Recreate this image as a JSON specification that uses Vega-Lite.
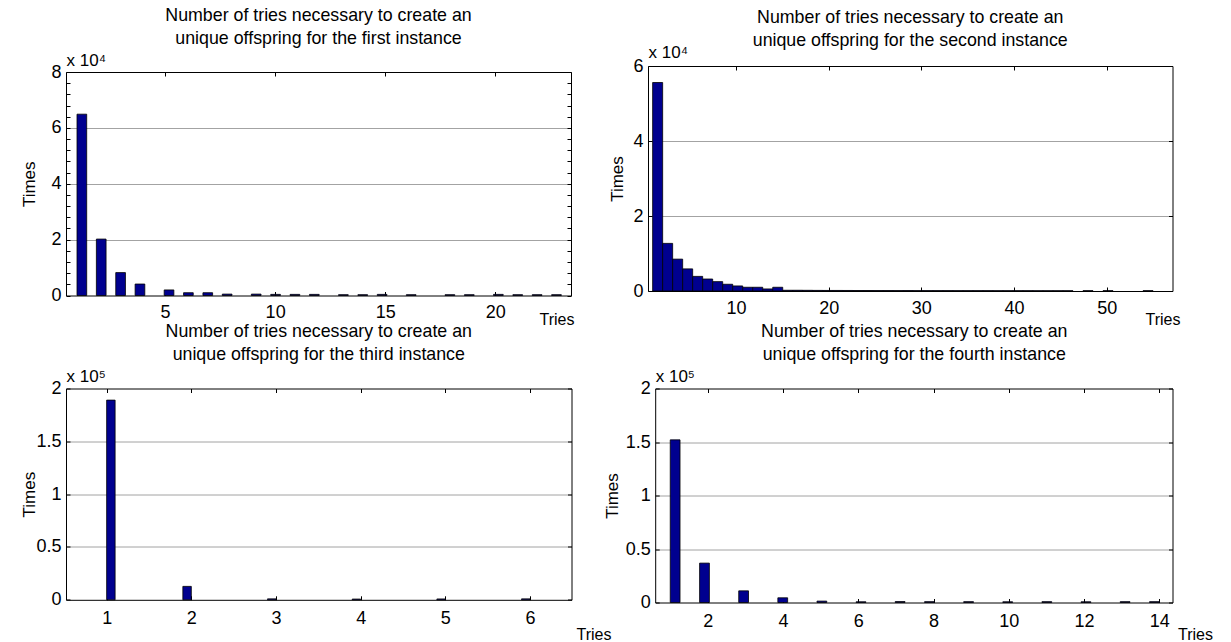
{
  "$schema": "https://vega.github.io/schema/vega-lite/v6.json",
  "padding": {"left": 20, "top": 7, "right": 0, "bottom": 0},
  "bounds": "flush",
  "align": "each",
  "columns": 2,
  "spacing": {"row": 92.5, "column": 76},
  "config": {
    "font": "Liberation Sans",
    "view": {"stroke": null},
    "axis": {
      "domainColor": "black", "domainWidth": 1, "tickColor": "black", "labelColor": "black", "titleColor": "black",
      "labelFont": "Liberation Sans", "titleFont": "Liberation Sans", "titleFontWeight": "normal",
      "labelFontSize": 18, "titleFontSize": 17, "tickSize": -4, "grid": false,
      "gridColor": "#8c8c8c", "gridWidth": 0.8
    },
    "title": {"font": "Liberation Sans", "fontSize": 17.8, "fontWeight": "normal", "color": "black", "lineHeight": 23, "anchor": "middle"},
    "bar": {"color": "#00008F", "stroke": "black", "strokeWidth": 0.8}
  },
  "concat": [
    {
      "width": 505, "height": 229.5,
      "title": {"text": ["Number of tries necessary to create an", "unique offspring for the first instance"], "offset": 3},
      "data": {"values": [
        {"lo": 1.00, "hi": 1.44, "count": 64900},
        {"lo": 1.88, "hi": 2.32, "count": 20200},
        {"lo": 2.76, "hi": 3.20, "count": 8200},
        {"lo": 3.64, "hi": 4.08, "count": 4100},
        {"lo": 4.96, "hi": 5.40, "count": 2000},
        {"lo": 5.84, "hi": 6.28, "count": 1000},
        {"lo": 6.72, "hi": 7.16, "count": 1000},
        {"lo": 7.60, "hi": 8.04, "count": 500},
        {"lo": 8.92, "hi": 9.36, "count": 500},
        {"lo": 9.80, "hi": 10.24, "count": 400},
        {"lo": 10.68, "hi": 11.12, "count": 400},
        {"lo": 11.56, "hi": 12.00, "count": 400},
        {"lo": 12.88, "hi": 13.32, "count": 300},
        {"lo": 13.76, "hi": 14.20, "count": 300},
        {"lo": 14.64, "hi": 15.08, "count": 400},
        {"lo": 15.96, "hi": 16.40, "count": 300},
        {"lo": 17.72, "hi": 18.16, "count": 300},
        {"lo": 18.60, "hi": 19.04, "count": 300},
        {"lo": 19.92, "hi": 20.36, "count": 400},
        {"lo": 20.80, "hi": 21.24, "count": 300},
        {"lo": 21.68, "hi": 22.12, "count": 300},
        {"lo": 22.56, "hi": 23.00, "count": 300}
      ]},
      "layer": [
        {
          "mark": {"type": "bar"},
          "encoding": {
            "x": {"field": "lo", "type": "quantitative", "scale": {"domain": [0.5, 23.44], "nice": false, "zero": false},
              "axis": {"orient": "bottom", "values": [5, 10, 15, 20], "labelPadding": 12, "title": "Tries", "titleFontSize": 16, "titleX": 508, "titleY": 29, "titleAlign": "right", "titleAngle": 0, "titleBaseline": "alphabetic"}},
            "x2": {"field": "hi"},
            "y": {"field": "count", "type": "quantitative", "scale": {"domain": [0, 80000], "nice": false, "range": [229.5, 6]},
              "axis": {"orient": "left", "values": [0, 4000, 8000, 12000, 16000, 20000, 24000, 28000, 32000, 36000, 40000, 44000, 48000, 52000, 56000, 60000, 64000, 68000, 72000, 76000, 80000],
                "labelExpr": "datum.value % 20000 === 0 ? '' + datum.value / 10000 : ''", "labelPadding": 9,
                "grid": true, "gridOpacity": {"condition": {"test": "datum.value % 20000 === 0 && datum.value > 0 && datum.value < 80000", "value": 1}, "value": 0},
                "title": "Times", "titleX": -37, "titleY": 117.75, "titleAlign": "center", "titleBaseline": "middle", "titleAngle": -90}},
            "y2": {"datum": 0}
          }
        },
        {
          "mark": {"type": "bar", "opacity": 0},
          "encoding": {
            "x": {"field": "lo", "type": "quantitative", "axis": {"orient": "top", "offset": -6, "values": [5, 10, 15, 20], "labels": false, "title": "x 10⁴", "titleFontSize": 17, "titleX": 0, "titleY": -7, "titleAlign": "left", "titleAngle": 0, "titleBaseline": "alphabetic"}},
            "x2": {"field": "hi"},
            "y": {"field": "count", "type": "quantitative", "axis": {"orient": "right", "values": [0, 4000, 8000, 12000, 16000, 20000, 24000, 28000, 32000, 36000, 40000, 44000, 48000, 52000, 56000, 60000, 64000, 68000, 72000, 76000, 80000], "labels": false, "title": null}},
            "y2": {"datum": 0}
          }
        }
      ],
      "resolve": {"axis": {"x": "independent", "y": "independent"}}
    },
    {
      "width": 524.5, "height": 225,
      "title": {"text": ["Number of tries necessary to create an", "unique offspring  for the second instance"], "offset": -7},
      "data": {"values": [
        {"lo": 1.00, "hi": 2.08, "count": 55600},
        {"lo": 2.08, "hi": 3.16, "count": 12700},
        {"lo": 3.16, "hi": 4.24, "count": 8500},
        {"lo": 4.24, "hi": 5.32, "count": 5900},
        {"lo": 5.32, "hi": 6.40, "count": 3900},
        {"lo": 6.40, "hi": 7.48, "count": 3200},
        {"lo": 7.48, "hi": 8.56, "count": 2500},
        {"lo": 8.56, "hi": 9.64, "count": 1800},
        {"lo": 9.64, "hi": 10.72, "count": 1350},
        {"lo": 10.72, "hi": 11.80, "count": 1000},
        {"lo": 11.80, "hi": 12.88, "count": 1000},
        {"lo": 12.88, "hi": 13.96, "count": 550},
        {"lo": 13.96, "hi": 15.04, "count": 1000},
        {"lo": 15.04, "hi": 16.12, "count": 200},
        {"lo": 16.12, "hi": 17.20, "count": 200},
        {"lo": 17.20, "hi": 18.28, "count": 180},
        {"lo": 18.28, "hi": 19.36, "count": 160},
        {"lo": 19.36, "hi": 20.44, "count": 150},
        {"lo": 20.44, "hi": 21.52, "count": 150},
        {"lo": 21.52, "hi": 22.60, "count": 140},
        {"lo": 22.60, "hi": 23.68, "count": 130},
        {"lo": 23.68, "hi": 24.76, "count": 130},
        {"lo": 24.76, "hi": 25.84, "count": 120},
        {"lo": 25.84, "hi": 26.92, "count": 120},
        {"lo": 26.92, "hi": 28.00, "count": 110},
        {"lo": 28.00, "hi": 29.08, "count": 110},
        {"lo": 29.08, "hi": 30.16, "count": 100},
        {"lo": 30.16, "hi": 31.24, "count": 100},
        {"lo": 31.24, "hi": 32.32, "count": 100},
        {"lo": 32.32, "hi": 33.40, "count": 100},
        {"lo": 33.40, "hi": 34.48, "count": 90},
        {"lo": 34.48, "hi": 35.56, "count": 90},
        {"lo": 35.56, "hi": 36.64, "count": 90},
        {"lo": 36.64, "hi": 37.72, "count": 90},
        {"lo": 37.72, "hi": 38.80, "count": 80},
        {"lo": 38.80, "hi": 39.88, "count": 80},
        {"lo": 39.88, "hi": 40.96, "count": 80},
        {"lo": 40.96, "hi": 42.04, "count": 80},
        {"lo": 42.04, "hi": 43.12, "count": 70},
        {"lo": 43.12, "hi": 44.20, "count": 70},
        {"lo": 44.20, "hi": 45.28, "count": 70},
        {"lo": 45.28, "hi": 46.36, "count": 70},
        {"lo": 47.44, "hi": 48.52, "count": 80},
        {"lo": 49.60, "hi": 50.68, "count": 80},
        {"lo": 53.92, "hi": 55.00, "count": 80}
      ]},
      "layer": [
        {
          "mark": {"type": "bar"},
          "encoding": {
            "x": {"field": "lo", "type": "quantitative", "scale": {"domain": [0.5, 57.1], "nice": false, "zero": false},
              "axis": {"orient": "bottom", "values": [10, 20, 30, 40, 50], "labelPadding": 12, "title": "Tries", "titleFontSize": 16, "titleX": 497, "titleY": 33, "titleAlign": "left", "titleAngle": 0, "titleBaseline": "alphabetic"}},
            "x2": {"field": "hi"},
            "y": {"field": "count", "type": "quantitative", "scale": {"domain": [0, 60000], "nice": false},
              "axis": {"orient": "left", "values": [0, 20000, 40000, 60000], "labelExpr": "'' + datum.value / 10000", "labelPadding": 9,
                "grid": true, "gridOpacity": {"condition": {"test": "datum.value > 0 && datum.value < 60000", "value": 1}, "value": 0},
                "title": "Times", "titleX": -31, "titleY": 112.5, "titleAlign": "center", "titleBaseline": "middle", "titleAngle": -90}},
            "y2": {"datum": 0}
          }
        },
        {
          "mark": {"type": "bar", "opacity": 0},
          "encoding": {
            "x": {"field": "lo", "type": "quantitative", "axis": {"orient": "top", "values": [10, 20, 30, 40, 50], "labels": false, "title": "x 10⁴", "titleFontSize": 17, "titleX": 0, "titleY": -9, "titleAlign": "left", "titleAngle": 0, "titleBaseline": "alphabetic"}},
            "x2": {"field": "hi"},
            "y": {"field": "count", "type": "quantitative", "axis": {"orient": "right", "values": [0, 20000, 40000, 60000], "labels": false, "title": null}},
            "y2": {"datum": 0}
          }
        }
      ],
      "resolve": {"axis": {"x": "independent", "y": "independent"}}
    },
    {
      "width": 505.5, "height": 211.3,
      "title": {"text": ["Number of tries necessary to create an", "unique offspring  for the third instance"], "offset": 4},
      "data": {"values": [
        {"lo": 1.0, "hi": 1.1, "count": 189000},
        {"lo": 1.9, "hi": 2.0, "count": 12700},
        {"lo": 2.9, "hi": 3.0, "count": 900},
        {"lo": 3.9, "hi": 4.0, "count": 700},
        {"lo": 4.9, "hi": 5.0, "count": 800},
        {"lo": 5.9, "hi": 6.0, "count": 900}
      ]},
      "layer": [
        {
          "mark": {"type": "bar"},
          "encoding": {
            "x": {"field": "lo", "type": "quantitative", "scale": {"domain": [0.52, 6.49], "nice": false, "zero": false},
              "axis": {"orient": "bottom", "values": [1, 2, 3, 4, 5, 6], "labelPadding": 14, "title": "Tries", "titleFontSize": 16, "titleX": 510, "titleY": 40, "titleAlign": "left", "titleAngle": 0, "titleBaseline": "alphabetic"}},
            "x2": {"field": "hi"},
            "y": {"field": "count", "type": "quantitative", "scale": {"domain": [0, 200000], "nice": false},
              "axis": {"orient": "left", "values": [0, 50000, 100000, 150000, 200000], "labelExpr": "'' + datum.value / 100000", "labelPadding": 9,
                "grid": true, "gridOpacity": {"condition": {"test": "datum.value > 0 && datum.value < 200000", "value": 1}, "value": 0},
                "title": "Times", "titleX": -37, "titleY": 105.6, "titleAlign": "center", "titleBaseline": "middle", "titleAngle": -90}},
            "y2": {"datum": 0}
          }
        },
        {
          "mark": {"type": "bar", "opacity": 0},
          "encoding": {
            "x": {"field": "lo", "type": "quantitative", "axis": {"orient": "top", "values": [1, 2, 3, 4, 5, 6], "labels": false, "title": "x 10⁵", "titleFontSize": 17, "titleX": 0, "titleY": -7, "titleAlign": "left", "titleAngle": 0, "titleBaseline": "alphabetic"}},
            "x2": {"field": "hi"},
            "y": {"field": "count", "type": "quantitative", "axis": {"orient": "right", "values": [0, 50000, 100000, 150000, 200000], "labels": false, "title": null}},
            "y2": {"datum": 0}
          }
        }
      ],
      "resolve": {"axis": {"x": "independent", "y": "independent"}}
    },
    {
      "width": 524.5, "height": 214,
      "title": {"text": ["Number of tries necessary to create an", "unique offspring  for the fourth instance"], "offset": 4, "dx": 4},
      "data": {"values": [
        {"lo": 1.00, "hi": 1.26, "count": 152000},
        {"lo": 1.78, "hi": 2.04, "count": 36800},
        {"lo": 2.82, "hi": 3.08, "count": 10900},
        {"lo": 3.86, "hi": 4.12, "count": 4400},
        {"lo": 4.90, "hi": 5.16, "count": 1300},
        {"lo": 5.94, "hi": 6.20, "count": 700},
        {"lo": 6.98, "hi": 7.24, "count": 900},
        {"lo": 7.76, "hi": 8.02, "count": 800},
        {"lo": 8.80, "hi": 9.06, "count": 800},
        {"lo": 9.84, "hi": 10.10, "count": 700},
        {"lo": 10.88, "hi": 11.14, "count": 800},
        {"lo": 11.92, "hi": 12.18, "count": 700},
        {"lo": 12.96, "hi": 13.22, "count": 800},
        {"lo": 13.74, "hi": 14.00, "count": 800}
      ]},
      "layer": [
        {
          "mark": {"type": "bar"},
          "encoding": {
            "x": {"field": "lo", "type": "quantitative", "scale": {"domain": [0.6, 14.35], "nice": false, "zero": false, "range": [7.2, 524.5]},
              "axis": {"orient": "bottom", "values": [2, 4, 6, 8, 10, 12, 14], "labelPadding": 14, "title": "Tries", "titleFontSize": 16, "titleX": 529.5, "titleY": 37, "titleAlign": "left", "titleAngle": 0, "titleBaseline": "alphabetic"}},
            "x2": {"field": "hi"},
            "y": {"field": "count", "type": "quantitative", "scale": {"domain": [0, 200000], "nice": false},
              "axis": {"orient": "left", "offset": -7.2, "values": [0, 50000, 100000, 150000, 200000], "labelExpr": "'' + datum.value / 100000", "labelPadding": 9,
                "grid": true, "gridOpacity": {"condition": {"test": "datum.value > 0 && datum.value < 200000", "value": 1}, "value": 0},
                "title": "Times", "titleX": -43, "titleY": 107, "titleAlign": "center", "titleBaseline": "middle", "titleAngle": -90}},
            "y2": {"datum": 0}
          }
        },
        {
          "mark": {"type": "bar", "opacity": 0},
          "encoding": {
            "x": {"field": "lo", "type": "quantitative", "axis": {"orient": "top", "values": [2, 4, 6, 8, 10, 12, 14], "labels": false, "title": "x 10⁵", "titleFontSize": 17, "titleX": 7.2, "titleY": -7, "titleAlign": "left", "titleAngle": 0, "titleBaseline": "alphabetic"}},
            "x2": {"field": "hi"},
            "y": {"field": "count", "type": "quantitative", "axis": {"orient": "right", "values": [0, 50000, 100000, 150000, 200000], "labels": false, "title": null}},
            "y2": {"datum": 0}
          }
        }
      ],
      "resolve": {"axis": {"x": "independent", "y": "independent"}}
    }
  ]
}
